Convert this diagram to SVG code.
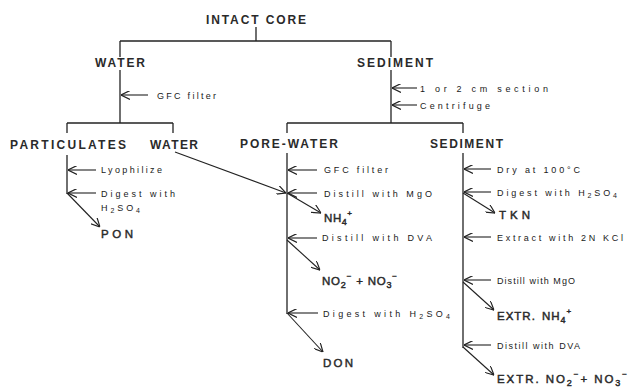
<svg xmlns="http://www.w3.org/2000/svg" width="632" height="390" viewBox="0 0 632 390">
<style>
.h{font-family:"Liberation Sans",Arial,sans-serif;font-size:12px;font-weight:bold;fill:#2a2a2a}
.s{font-family:"Liberation Sans",Arial,sans-serif;font-size:9px;fill:#1a1a1a}
.p{font-family:"Liberation Sans",Arial,sans-serif;font-size:11.5px;fill:#2a2a2a;stroke:#2a2a2a;stroke-width:0.45}
.l{stroke:#222;stroke-width:1.3;fill:none}
.a{stroke:#222;stroke-width:1.1;fill:none;marker-end:url(#ah)}
</style>
<defs>
<marker id="ah" viewBox="0 0 10 10" refX="10" refY="5" markerWidth="9" markerHeight="9" markerUnits="userSpaceOnUse" orient="auto">
<path d="M0,0 L10,5 L0,10" fill="none" stroke="#222" stroke-width="1.3"/>
</marker>
</defs>
<rect width="632" height="390" fill="#fff"/>
<g id="connectors">
<line class="l" x1="256" y1="27" x2="256" y2="41"/>
<line class="l" x1="120" y1="41" x2="391" y2="41"/>
<line class="l" x1="120" y1="41" x2="120" y2="57"/>
<line class="l" x1="120" y1="70" x2="120" y2="123"/>
<line class="l" x1="391" y1="41" x2="391" y2="57"/>
<line class="l" x1="391" y1="70" x2="391" y2="123"/>
<line class="a" x1="148" y1="95" x2="121" y2="95"/>
<line class="a" x1="417" y1="88" x2="392" y2="88"/>
<line class="a" x1="417" y1="105" x2="392" y2="105"/>
<line class="l" x1="67" y1="123" x2="173" y2="123"/>
<line class="l" x1="67" y1="123" x2="67" y2="133"/>
<line class="l" x1="173" y1="123" x2="173" y2="133"/>
<line class="l" x1="287" y1="123" x2="463" y2="123"/>
<line class="l" x1="287" y1="123" x2="287" y2="133"/>
<line class="l" x1="463" y1="123" x2="463" y2="133"/>
<line class="l" x1="67" y1="155" x2="67" y2="194"/>
<line class="a" x1="96" y1="170" x2="68" y2="170"/>
<line class="a" x1="96" y1="193" x2="68" y2="193"/>
<line class="a" x1="67" y1="193" x2="100" y2="227"/>
<line class="a" x1="175" y1="152" x2="286" y2="193"/>
<line class="l" x1="287" y1="153" x2="287" y2="314"/>
<line class="a" x1="317" y1="170" x2="288" y2="170"/>
<line class="a" x1="317" y1="193" x2="288" y2="193"/>
<line class="a" x1="287" y1="193" x2="321" y2="213"/>
<line class="a" x1="317" y1="238" x2="288" y2="238"/>
<line class="a" x1="287" y1="240" x2="320" y2="270"/>
<line class="a" x1="318" y1="313" x2="288" y2="313"/>
<line class="a" x1="287" y1="313" x2="323" y2="352"/>
<line class="l" x1="463" y1="153" x2="463" y2="348"/>
<line class="a" x1="491" y1="169" x2="464" y2="169"/>
<line class="a" x1="491" y1="192" x2="464" y2="192"/>
<line class="a" x1="463" y1="193" x2="495" y2="213"/>
<line class="a" x1="491" y1="237" x2="464" y2="237"/>
<line class="a" x1="491" y1="280" x2="464" y2="280"/>
<line class="a" x1="463" y1="282" x2="494" y2="310"/>
<line class="a" x1="491" y1="345" x2="464" y2="345"/>
<line class="a" x1="463" y1="347" x2="494" y2="375"/>
</g>
<g id="intact-core"><text class="h" x="206" y="24" textLength="100">INTACT CORE</text></g>
<g id="water"><text class="h" x="95" y="67" textLength="50">WATER</text></g>
<g id="sediment"><text class="h" x="357" y="67" textLength="76">SEDIMENT</text></g>
<g id="gfc1"><text class="s" x="157" y="99" textLength="59">GFC filter</text></g>
<g id="section"><text class="s" x="420" y="92" textLength="128">1 or 2 cm section</text></g>
<g id="centrifuge"><text class="s" x="420" y="109" textLength="70">Centrifuge</text></g>
<g id="particulates"><text class="h" x="10" y="149" textLength="116">PARTICULATES</text></g>
<g id="water2"><text class="h" x="150" y="149" textLength="48">WATER</text></g>
<g id="porewater"><text class="h" x="240" y="148" textLength="98">PORE-WATER</text></g>
<g id="sediment2"><text class="h" x="430" y="148" textLength="73">SEDIMENT</text></g>
<g id="lyophilize"><text class="s" x="101" y="173" textLength="61">Lyophilize</text></g>
<g id="digest1"><text class="s" x="101" y="197" textLength="74">Digest with</text><text class="s" x="101" y="211" textLength="39">H<tspan font-size="7" dy="2">2</tspan><tspan dy="-2">SO</tspan><tspan font-size="7" dy="2">4</tspan></text></g>
<g id="pon"><text class="p" x="101" y="238" textLength="32">PON</text></g>
<g id="gfc2"><text class="s" x="324" y="173" textLength="64">GFC filter</text></g>
<g id="mgo1"><text class="s" x="324" y="197" textLength="108">Distill with MgO</text></g>
<g id="nh4"><text class="p" x="324" y="222" textLength="28">NH<tspan font-size="9" dy="3">4</tspan><tspan font-size="8" dy="-9">+</tspan></text></g>
<g id="dva1"><text class="s" x="322" y="241" textLength="110">Distill with DVA</text></g>
<g id="no2no3"><text class="p" x="322" y="285" textLength="75">NO<tspan font-size="9" dy="3">2</tspan><tspan font-size="8" dy="-9">−</tspan><tspan dy="6"> + NO</tspan><tspan font-size="9" dy="3">3</tspan><tspan font-size="8" dy="-9">−</tspan></text></g>
<g id="digest2"><text class="s" x="323" y="317" textLength="127">Digest with  H<tspan font-size="7" dy="2">2</tspan><tspan dy="-2">SO</tspan><tspan font-size="7" dy="2">4</tspan></text></g>
<g id="don"><text class="p" x="323" y="367" textLength="30">DON</text></g>
<g id="dry"><text class="s" x="497" y="173" textLength="83">Dry at 100°C</text></g>
<g id="digest3"><text class="s" x="497" y="196" textLength="120">Digest with H<tspan font-size="7" dy="2">2</tspan><tspan dy="-2">SO</tspan><tspan font-size="7" dy="2">4</tspan></text></g>
<g id="tkn"><text class="p" x="499" y="219" textLength="31">TKN</text></g>
<g id="kcl"><text class="s" x="497" y="241" textLength="126">Extract with 2N KCl</text></g>
<g id="mgo2"><text class="s" x="497" y="284" textLength="78">Distill with MgO</text></g>
<g id="extrnh4"><text class="p" x="497" y="320" letter-spacing="1">EXTR.<tspan dx="6">NH</tspan><tspan font-size="9" dy="3">4</tspan><tspan font-size="8" dy="-9">+</tspan></text></g>
<g id="dva2"><text class="s" x="497" y="349" textLength="83">Distill with DVA</text></g>
<g id="extrno"><text class="p" x="497" y="383" textLength="130">EXTR. NO<tspan font-size="9" dy="3">2</tspan><tspan font-size="8" dy="-9">−</tspan><tspan dy="6">+ NO</tspan><tspan font-size="9" dy="3">3</tspan><tspan font-size="8" dy="-9">−</tspan></text></g>
</svg>
